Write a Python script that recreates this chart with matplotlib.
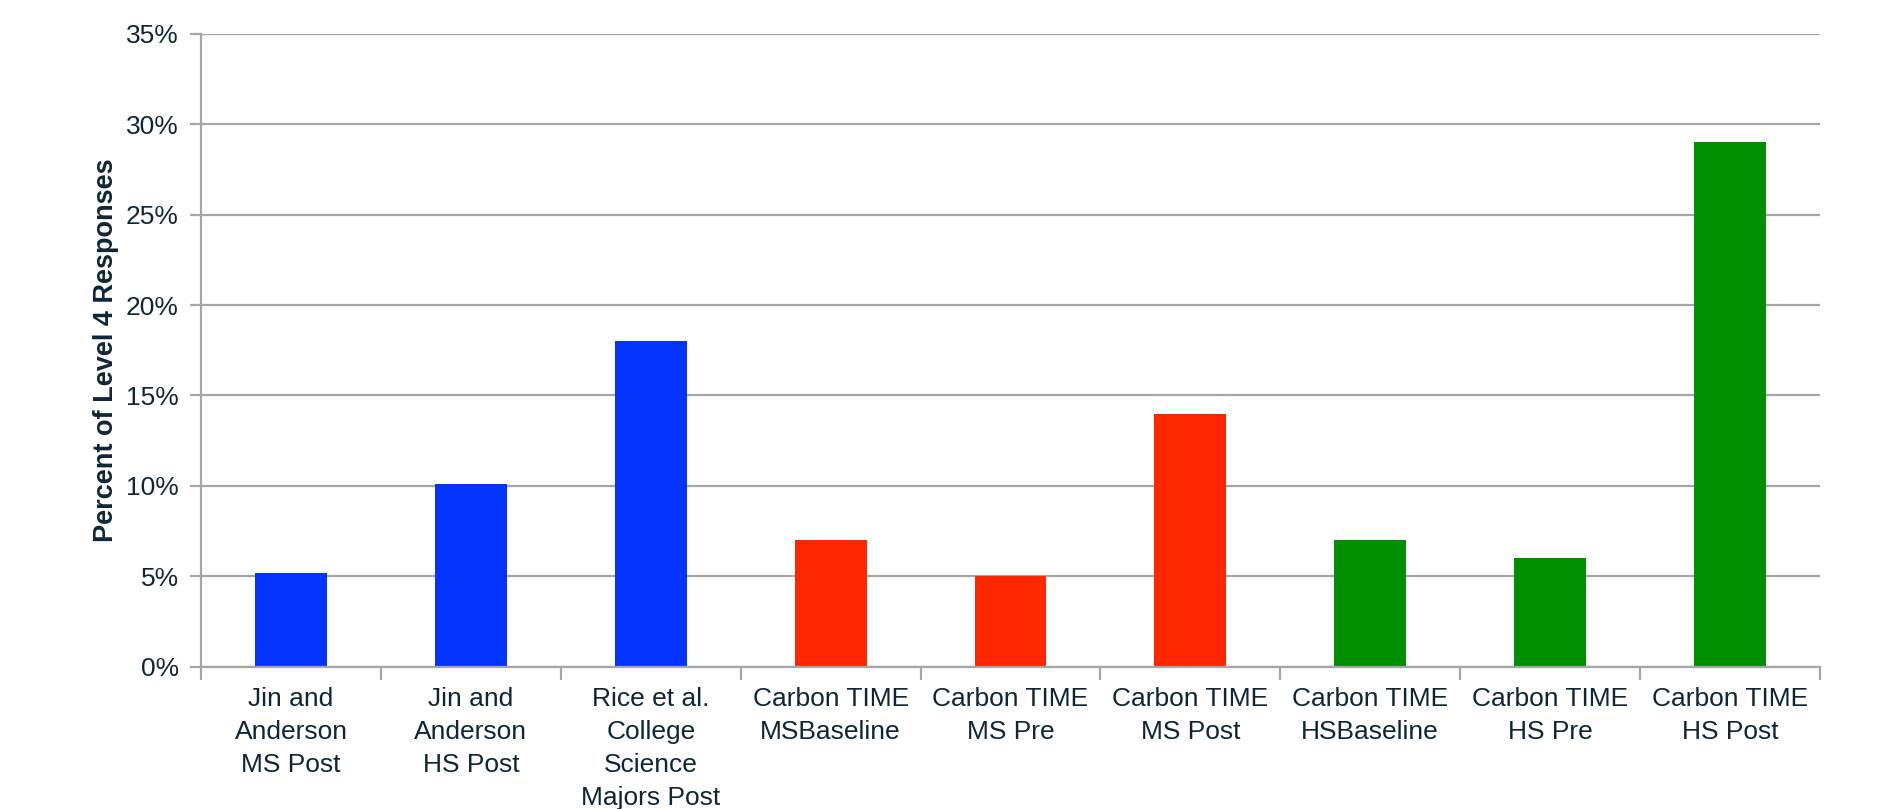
import matplotlib.pyplot as plt
import numpy as np
from matplotlib.ticker import FuncFormatter

# --- Data ---
kategorie = [
    "Jin and\nAnderson\nMS Post",
    "Jin and\nAnderson\nHS Post",
    "Rice et al.\nCollege\nScience\nMajors Post",
    "Carbon TIME\nMSBaseline",
    "Carbon TIME\nMS Pre",
    "Carbon TIME\nMS Post",
    "Carbon TIME\nHSBaseline",
    "Carbon TIME\nHS Pre",
    "Carbon TIME\nHS Post",
]
wartosci = [5.2, 10.1, 18, 7, 5, 14, 7, 6, 29]
kolory = ["#0433FF", "#0433FF", "#0433FF",
          "#FF2600", "#FF2600", "#FF2600",
          "#008F00", "#008F00", "#008F00"]

TEKST = "#0f2636"
SZARY = "#a3a6a9"

plt.rcParams['font.family'] = ['Liberation Sans', 'DejaVu Sans']

fig = plt.figure(figsize=(18.8, 8.09), dpi=100)
ax = fig.add_axes([0.107, 0.176, 0.861, 0.782])

x = np.arange(len(kategorie))
ax.bar(x, wartosci, width=0.4, color=kolory, zorder=3)

ax.set_xlim(-0.5, len(kategorie) - 0.5)
ax.set_ylim(0, 35)
ax.set_yticks(np.arange(0, 36, 5))
ax.yaxis.set_major_formatter(FuncFormatter(lambda v, p: f"{v:.0f}%"))
ax.grid(axis='y', color=SZARY, linewidth=1.6, zorder=0)

# kategorie na srodku, kreski na granicach
ax.set_xticks(x)
ax.set_xticklabels(kategorie, fontsize=19, color=TEKST, linespacing=1.47)
ax.set_xticks(np.arange(-0.5, len(kategorie), 1), minor=True)
ax.tick_params(axis='x', which='major', length=0, pad=15)
ax.tick_params(axis='x', which='minor', length=9, width=1.6, color=SZARY)
ax.tick_params(axis='y', length=8, width=1.6, color=SZARY, labelsize=19,
               labelcolor=TEKST, pad=8)

for s in ['top', 'right']:
    ax.spines[s].set_visible(False)
for s in ['left', 'bottom']:
    ax.spines[s].set_color(SZARY)
    ax.spines[s].set_linewidth(1.6)
    ax.spines[s].set_zorder(4)

ax.set_ylabel("Percent of Level 4 Responses", fontsize=19.5, fontweight='bold',
              color=TEKST, labelpad=5)

plt.savefig("out.png", dpi=100)
